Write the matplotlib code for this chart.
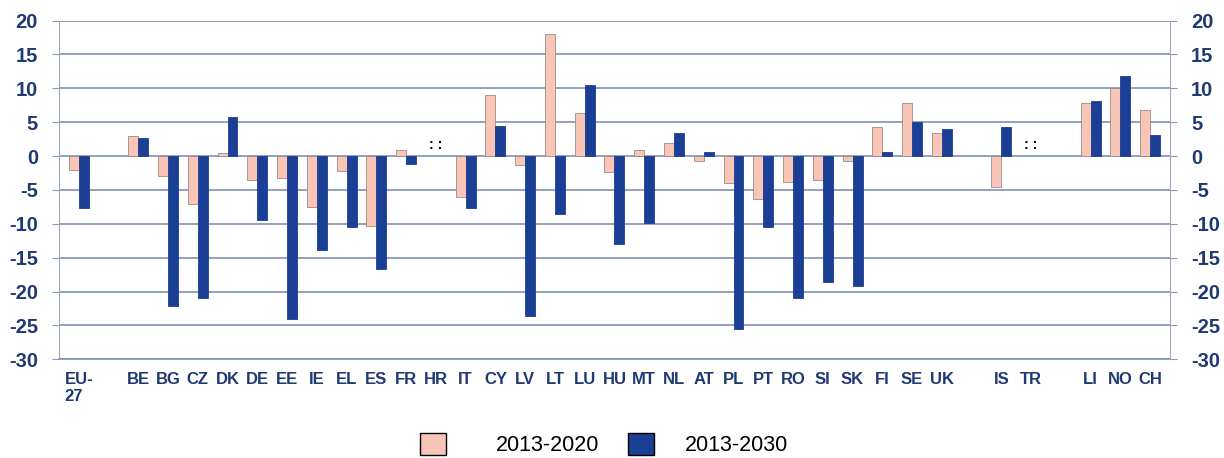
import numpy as np
import matplotlib.pyplot as plt
from matplotlib.patches import Patch

# category labels, "" = empty slot
countries = ["EU-\n27", "", "BE", "BG", "CZ", "DK", "DE", "EE", "IE", "EL", "ES", "FR", "HR",
             "IT", "CY", "LV", "LT", "LU", "HU", "MT", "NL", "AT", "PL", "PT", "RO", "SI",
             "SK", "FI", "SE", "UK", "", "IS", "TR", "", "LI", "NO", "CH"]

# values (nan = no bar / not available)
v2020 = [-2.0, np.nan, 2.9, -3.0, -7.0, 0.4, -3.6, -3.3, -7.5, -2.2, -10.3, 0.9, np.nan,
         -6.0, 9.0, -1.3, 18.0, 6.3, -2.3, 0.9, 2.0, -0.7, -4.0, -6.4, -3.8, -3.6,
         -0.7, 4.3, 7.9, 3.45, np.nan, -4.5, np.nan, np.nan, 7.9, 10.1, 6.8]
v2030 = [-7.6, np.nan, 2.7, -22.2, -21.0, 5.7, -9.5, -24.0, -13.8, -10.4, -16.6, -1.2, np.nan,
         -7.6, 4.4, -23.6, -8.6, 10.5, -13.0, -9.9, 3.35, 0.6, -25.6, -10.4, -20.9, -18.6,
         -19.2, 0.65, 5.0, 4.0, np.nan, 4.3, np.nan, np.nan, 8.1, 11.8, 3.1]
missing = ["HR", "TR"]
series = ["2013-2020", "2013-2030"]

navy = "#1F3A73"
grid_c = "#8A9AB8"
pink = "#F9C5B6"
blue = "#1B3F94"
plt.rcParams['font.family'] = ['Liberation Sans', 'DejaVu Sans']
plt.rcParams['axes.unicode_minus'] = False

fig = plt.figure(figsize=(12.24, 4.58), dpi=100)
ax = fig.add_axes([0.048, 0.2155, 0.908, 0.7395])

x = np.arange(len(countries))
w = 0.335
ax.bar(x - w / 2, v2020, w, color=pink, edgecolor="#9A8A86", linewidth=0.6, zorder=3)
ax.bar(x + w / 2, v2030, w, color=blue, edgecolor=blue, linewidth=0.6, zorder=3)

for c in missing:
    ax.text(countries.index(c), 1.6, ": :", ha="center", va="center",
            fontsize=10, fontweight="bold", color="black")

ax.set_xlim(-0.67, 36.67)
ax.set_ylim(-30, 20)
ax.set_yticks(range(-30, 21, 5))
ax.yaxis.grid(True, color=grid_c, linewidth=1.3, zorder=0)
ax.set_axisbelow(True)

ax.set_xticks(x)
ax.set_xticklabels(countries, fontsize=12, fontweight="bold", color=navy,
                   multialignment="left")
ax.tick_params(axis="x", length=0, pad=9)
ax.tick_params(axis="y", direction="out", length=5, color=grid_c, labelsize=14.5,
               labelcolor=navy, pad=10, right=True, labelright=True)
for t in ax.get_yticklabels():
    t.set_fontweight("bold")

ax.spines["top"].set_visible(False)
ax.spines["left"].set_color("#A0A8B8")
ax.spines["right"].set_color("#A0A8B8")
ax.spines["bottom"].set_color(grid_c)
ax.spines["bottom"].set_linewidth(1.3)

# two separate legend entries (spacing differs in the original)
for lab, col, xpos, tpad in [(series[0], pink, 0.343, 2.35), (series[1], blue, 0.513, 1.45)]:
    fig.legend(handles=[Patch(facecolor=col, edgecolor="black", label=lab)],
               loc="upper left", bbox_to_anchor=(xpos, 0.055), frameon=False,
               fontsize=15.5, handlelength=1.2, handleheight=1.2, handletextpad=tpad,
               borderpad=0, borderaxespad=0)

fig.savefig("out.png", dpi=100)
